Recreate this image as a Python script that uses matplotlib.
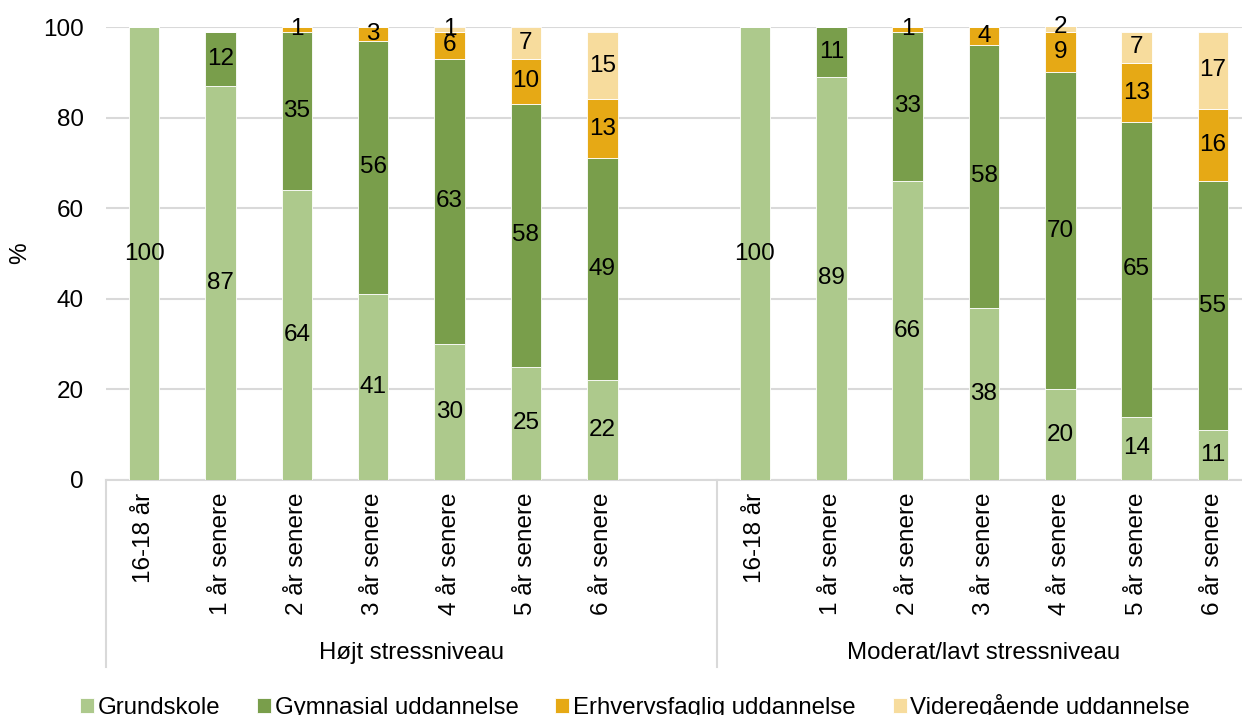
import matplotlib.pyplot as plt
import numpy as np

plt.rcParams['font.family'] = ['Liberation Sans', 'DejaVu Sans']

groups = ['Højt stressniveau', 'Moderat/lavt stressniveau']
periods = ['16-18 år', '1 år senere', '2 år senere', '3 år senere',
           '4 år senere', '5 år senere', '6 år senere']
series = ['Grundskole', 'Gymnasial uddannelse',
          'Erhvervsfaglig uddannelse', 'Videregående uddannelse']
colors = ['#ADC98C', '#799E4B', '#E6A915', '#F7DC9D']

# Højt stressniveau
hoejt_grund = [100, 87, 64, 41, 30, 25, 22]
hoejt_gym = [0, 12, 35, 56, 63, 58, 49]
hoejt_erhv = [0, 0, 1, 3, 6, 10, 13]
hoejt_vid = [0, 0, 0, 0, 1, 7, 15]

# Moderat/lavt stressniveau
mod_grund = [100, 89, 66, 38, 20, 14, 11]
mod_gym = [0, 11, 33, 58, 70, 65, 55]
mod_erhv = [0, 0, 1, 4, 9, 13, 16]
mod_vid = [0, 0, 0, 0, 2, 7, 17]

FS = 17.5      # ticks and bar labels
FS_CAT = 17.3  # group names and legend

fig = plt.figure(figsize=(12.42, 7.15), dpi=100)
ax = fig.add_axes([106 / 1242, (715 - 480) / 715, (1242 - 106) / 1242, 453 / 715])

# group 1 takes slots 0-6 (slot 7 left empty), group 2 slots 8-14
x1 = np.arange(7)
x2 = np.arange(7) + 8
width = 0.4

for xs, data in [(x1, [hoejt_grund, hoejt_gym, hoejt_erhv, hoejt_vid]),
                 (x2, [mod_grund, mod_gym, mod_erhv, mod_vid])]:
    bottom = np.zeros(7)
    for i, vals in enumerate(data):
        vals = np.array(vals, dtype=float)
        bars = ax.bar(xs, vals, width, bottom=bottom, color=colors[i],
                      edgecolor='white', linewidth=0.6, zorder=3,
                      label=series[i] if xs[0] == 0 else None)
        for b, v, y0 in zip(bars, vals, bottom):
            if v > 0:
                ax.text(b.get_x() + b.get_width() / 2, y0 + v / 2, '%d' % v,
                        ha='center', va='center', fontsize=FS, zorder=4)
        bottom += vals

ax.set_ylim(0, 100)
ax.set_xlim(-0.5, 14.38)
ax.set_yticks(range(0, 101, 20))
ax.yaxis.grid(True, color='#D9D9D9', linewidth=1.5, zorder=0)
ax.tick_params(axis='y', length=0, pad=16, labelsize=FS)
ax.set_ylabel('%', fontsize=FS)
ax.yaxis.set_label_coords(-0.066, 0.5)

ax.set_xticks(list(x1) + list(x2))
ax.set_xticklabels(periods + periods, rotation=90, fontsize=FS, va='top')
ax.tick_params(axis='x', length=0, pad=9)

for s in ['top', 'right', 'left']:
    ax.spines[s].set_visible(False)
ax.spines['bottom'].set_color('#D9D9D9')
ax.spines['bottom'].set_linewidth(1.5)

# category group separators and group names below the tick labels
trans = ax.get_xaxis_transform()
for xsep in [-0.5, 7.5]:
    ax.plot([xsep, xsep], [0, -0.413], color='#D9D9D9', linewidth=1.5,
            transform=trans, clip_on=False)
for xc, name in zip([3.5, 11], groups):
    ax.text(xc, -0.381, name, ha='center', va='center', fontsize=FS_CAT,
            transform=trans)

fig.legend(loc='center', bbox_to_anchor=(0.5113, 0.012), ncol=4,
           frameon=False, fontsize=FS_CAT, handlelength=0.58,
           handleheight=0.58, handletextpad=0.16, columnspacing=1.53)

fig.savefig('out.png', dpi=100)
